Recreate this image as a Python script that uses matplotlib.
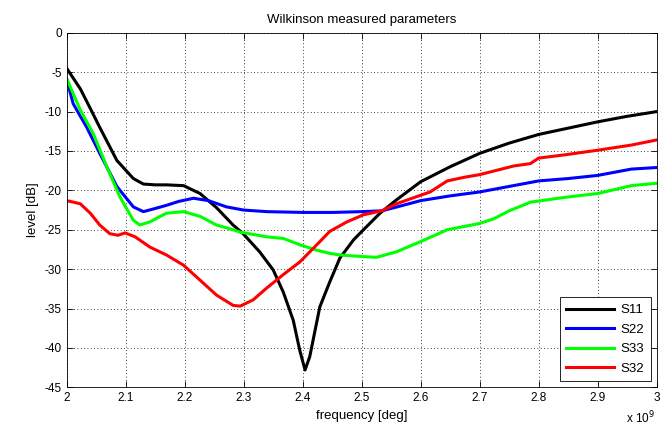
import matplotlib
matplotlib.use("Agg")
import matplotlib.pyplot as plt

plt.rcParams['font.family'] = ['Liberation Sans', 'DejaVu Sans']
plt.rcParams['axes.unicode_minus'] = False

# S11 (black)
f_s11 = [2.000, 2.023, 2.040, 2.056, 2.085, 2.113, 2.130, 2.150, 2.169, 2.198, 2.226,
         2.254, 2.282, 2.299, 2.327, 2.350, 2.367, 2.384, 2.395, 2.404, 2.412, 2.429,
         2.446, 2.463, 2.486, 2.503, 2.531, 2.559, 2.600, 2.650, 2.700, 2.750,
         2.800, 2.850, 2.900, 2.950, 3.000]
s11 = [-4.5, -7.1, -9.6, -12.0, -16.2, -18.5, -19.2, -19.3, -19.3, -19.4, -20.4,
       -22.2, -24.4, -25.5, -27.8, -30.1, -32.9, -36.5, -40.3, -42.8, -41.1, -34.8,
       -31.6, -28.6, -26.3, -25.0, -22.9, -21.2, -18.9, -17.0, -15.3, -14.0,
       -12.9, -12.1, -11.3, -10.6, -10.0]

# S22 (blue)
f_s22 = [2.000, 2.011, 2.034, 2.056, 2.085, 2.113, 2.130, 2.150, 2.169, 2.190, 2.215,
         2.240, 2.271, 2.300, 2.339, 2.400, 2.452, 2.500, 2.534, 2.560, 2.600, 2.650,
         2.700, 2.750, 2.800, 2.850, 2.900, 2.957, 3.000]
s22 = [-5.9, -9.0, -12.0, -15.3, -19.5, -22.1, -22.7, -22.3, -21.9, -21.4, -21.0,
       -21.3, -22.1, -22.5, -22.7, -22.8, -22.8, -22.7, -22.6, -22.1, -21.3, -20.7,
       -20.2, -19.5, -18.8, -18.5, -18.1, -17.3, -17.1]

# S33 (green)
f_s33 = [2.000, 2.023, 2.045, 2.068, 2.090, 2.113, 2.124, 2.141, 2.169, 2.198, 2.226,
         2.254, 2.282, 2.294, 2.339, 2.367, 2.395, 2.424, 2.446, 2.463, 2.500, 2.525,
         2.559, 2.600, 2.645, 2.700, 2.724, 2.750, 2.786, 2.843, 2.900, 2.957, 3.000]
s33 = [-5.8, -9.8, -12.8, -17.0, -20.8, -23.8, -24.4, -24.0, -22.9, -22.7, -23.3,
       -24.4, -25.0, -25.3, -25.9, -26.1, -26.9, -27.6, -28.0, -28.2, -28.4, -28.5,
       -27.8, -26.5, -25.0, -24.2, -23.6, -22.6, -21.5, -20.9, -20.4, -19.4, -19.1]

# S32 (red)
f_s32 = [2.000, 2.023, 2.040, 2.056, 2.073, 2.087, 2.099, 2.116, 2.141, 2.169, 2.198,
         2.226, 2.254, 2.282, 2.294, 2.316, 2.339, 2.367, 2.395, 2.424, 2.446, 2.475,
         2.503, 2.534, 2.559, 2.593, 2.616, 2.645, 2.673, 2.700, 2.758, 2.786, 2.800,
         2.843, 2.900, 2.957, 3.000]
s32 = [-21.3, -21.7, -22.9, -24.4, -25.5, -25.7, -25.4, -25.9, -27.2, -28.2, -29.5,
       -31.4, -33.3, -34.6, -34.7, -33.9, -32.4, -30.7, -29.1, -26.9, -25.2, -24.0,
       -23.1, -22.6, -21.7, -20.8, -20.2, -18.8, -18.35, -18.0, -16.9, -16.6, -15.9,
       -15.5, -14.9, -14.25, -13.6]

series = [("S11", f_s11, s11, "black"),
          ("S22", f_s22, s22, "blue"),
          ("S33", f_s33, s33, "#00ff00"),
          ("S32", f_s32, s32, "red")]

fig = plt.figure(figsize=(6.69, 4.32), dpi=100)
ax = fig.add_axes([0.0997, 0.1035, 0.8819, 0.8205])

for name, f, s, c in series:
    ax.plot([v * 1e9 for v in f], s, color=c, lw=2.2, label=name)

ax.set_xlim(2e9, 3e9)
ax.set_ylim(-45, 0)
xt = [2.0, 2.1, 2.2, 2.3, 2.4, 2.5, 2.6, 2.7, 2.8, 2.9, 3.0]
ax.set_xticks([v * 1e9 for v in xt])
ax.set_xticklabels(["2", "2.1", "2.2", "2.3", "2.4", "2.5", "2.6", "2.7", "2.8", "2.9", "3"])
ax.set_yticks(range(-45, 1, 5))
ax.tick_params(direction='in', top=True, right=True, labelsize=8.5, length=4, width=0.6)
ax.grid(True, linestyle=(0, (1, 3)), color='black', linewidth=0.6)
for sp in ax.spines.values():
    sp.set_linewidth(0.6)

ax.set_title("Wilkinson measured parameters", fontsize=9.5, pad=7)
ax.set_xlabel("frequency [deg]", fontsize=9.5, labelpad=4)
ax.set_ylabel("level [dB]", fontsize=9.5, labelpad=4)
fig.text(0.935, 0.02, r"x 10$^9$", fontsize=8.5)

leg = ax.legend(loc='lower right', fontsize=9.5, fancybox=False, edgecolor='black',
                framealpha=1, handlelength=3.6, borderaxespad=0.45, labelspacing=0.55,
                handletextpad=0.5, borderpad=0.5)
leg.get_frame().set_linewidth(0.6)

fig.savefig("out.png", dpi=100)
